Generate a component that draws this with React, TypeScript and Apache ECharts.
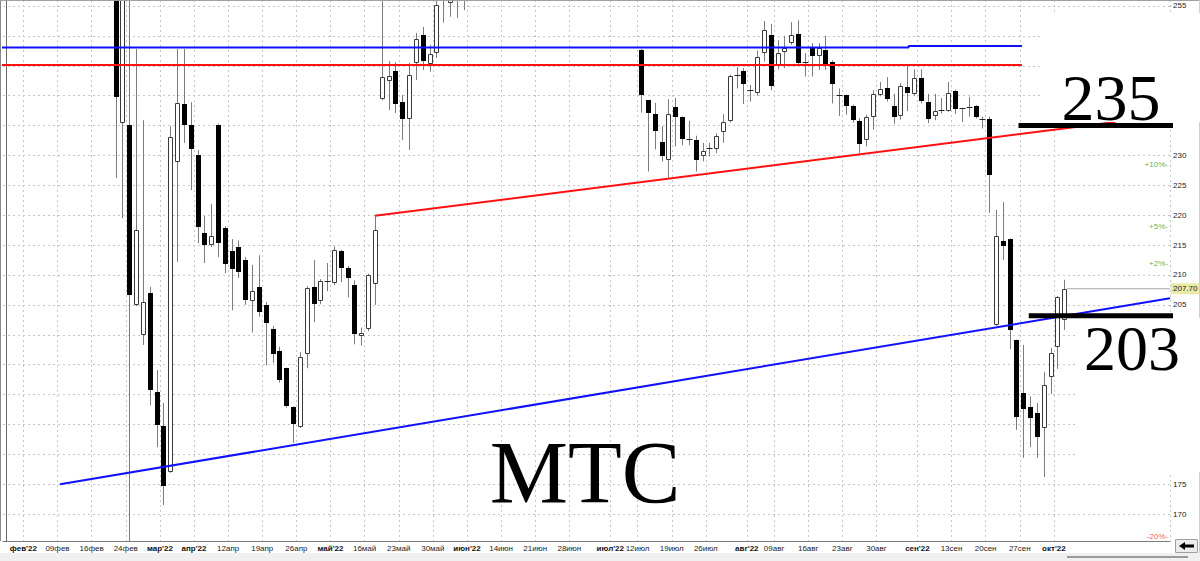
import React, { useEffect, useRef } from "react";
import * as echarts from "echarts";

// ---------- axis data ----------
const SLOT_COUNT = 171; // trading-day slots on the category axis
const tickSlots = [3, 8, 13, 18, 23, 28, 33, 38, 43, 48, 53, 58, 63, 68, 73, 78, 83, 89, 93, 98, 103, 109, 113, 118, 123, 128, 134, 139, 144, 149, 154];
const tickLabels = ["фев'22", "09фев", "16фев", "24фев", "мар'22", "апр'22", "12апр", "19апр", "26апр", "май'22", "16май", "23май", "30май", "июн'22", "14июн", "21июн", "28июн", "июл'22", "12июл", "19июл", "26июл", "авг'22", "09авг", "16авг", "23авг", "30авг", "сен'22", "13сен", "20сен", "27сен", "окт'22"];
const yTickLabels = [170, 175, 205, 210, 215, 220, 225, 230, 255];

// ---------- candles (slot, open, high, low, close) ----------
const candleSlots = [
  16, 17, 18, 19, 20, 21, 22, 23, 24, 25, 26, 27, 28, 29, 30, 31, 32, 33, 34, 35, 36, 37, 38, 39, 40, 41, 42, 43, 44, 45, 46, 47, 48, 49, 50, 51, 52, 53, 54,
  55, 56, 57, 58, 59, 60, 61, 62, 63, 64, 65, 66, 67,
  93, 94, 95, 96, 97, 98, 99, 100, 101, 102, 103, 104, 105, 106, 107, 108, 109, 110, 111, 112, 113, 114, 115, 116, 117, 118, 119, 120, 121, 122, 123, 124, 125, 126, 127, 128, 129, 130, 131, 132, 133, 134, 135, 136, 137, 138, 139, 140, 141, 142, 143,
  144, 145, 146, 147, 148, 149, 150, 151, 152, 153, 154, 155,
];
const opens = [
  262, 235.4, 235.1, 205.0, 200.0, 207.0, 190.4, 184.7, 177.0, 228.9, 238.6, 235.1, 230.1, 217.0, 215.0, 235.1, 217.9, 214.0, 214.7, 212.5, 205.7, 208.0, 205.0, 201.0, 197.3, 194.4, 187.9, 184.6, 196.8, 208.0, 205.6, 209.0, 208.6, 214.0, 211.2, 208.3, 199.8, 200.9, 208.5,
  239.4, 242.5, 244.1, 238.9, 236.1, 245.5, 250.1, 245.3, 247.1, 256.5, 255.5, 257.5, 258,
  247.6, 239.2, 236.9, 232.3, 229.2, 238.1, 236.4, 232.8, 232.6, 229.9, 231.25, 231.0, 234.0, 235.8, 243.5, 244.2, 241.0, 240.3, 247.1, 250.2, 245.0, 247.2, 248.9, 250.3, 245.8, 247.9, 246.5, 247.6, 245.7, 240.2, 240.1, 238.3, 235.8, 232.6, 236.4, 240.1, 241.2, 238.3, 236.5, 241.5, 240.3, 242.9, 239.0, 236.6, 237.6, 237.5, 240.7, 237.9, 238.2, 238.3, 236.1,
  236.1, 201.6, 215.7, 216.0, 199.1, 190.2, 187.9, 186.9, 184.4, 192.9, 197.9, 202.5,
];
const highs = [
  264, 262, 258, 247.8, 235.9, 208.0, 194.1, 188.6, 234.9, 247.8, 247.8, 238.9, 230.9, 219.9, 221.9, 235.3, 218.2, 216.0, 215.8, 213.0, 211.7, 213.3, 205.5, 201.5, 198.0, 194.5, 188.0, 197.1, 208.1, 212.5, 209.3, 212.0, 214.8, 214.2, 211.5, 209.1, 201.2, 210.2, 219.9,
  258, 245.8, 245.6, 240.1, 245.5, 250.5, 251.5, 248.5, 256.5, 259, 259, 260, 261,
  247.8, 239.3, 238.8, 234.9, 239.4, 239.6, 236.5, 235.8, 233.3, 232.1, 232.1, 233.7, 236.9, 243.5, 244.8, 244.6, 241.8, 247.5, 252.5, 252.0, 249.3, 250.0, 252.3, 252.6, 247.1, 248.8, 248.8, 250.0, 245.9, 241.2, 240.2, 238.5, 236.2, 236.8, 240.9, 242.3, 243.1, 240.3, 242.1, 245.1, 244.4, 244.4, 240.3, 240.3, 239.6, 242.3, 241.0, 237.95, 239.8, 238.4, 236.5,
  236.5, 220.9, 222.2, 216.1, 199.2, 198.3, 189.7, 188.6, 193.8, 197.8, 206.5, 209.2,
];
const lows = [
  226.2, 219.5, 165, 204.8, 198.3, 188.2, 181.2, 171.5, 176.9, 212.2, 232.1, 224.2, 215.3, 212.0, 214.7, 213.0, 210.3, 204.1, 209.5, 205.0, 200.4, 203.0, 194.9, 195.3, 192.0, 187.8, 181.9, 184.4, 194.4, 202.1, 205.1, 207.3, 208.3, 208.8, 206.3, 198.4, 198.2, 200.6, 205.0,
  239.2, 237.6, 237.1, 232.6, 230.9, 242.6, 244.3, 244.0, 246.3, 252.2, 253.2, 253.0, 254.3,
  237.2, 227.3, 231.0, 229.0, 226.3, 231.5, 231.7, 231.7, 227.3, 229.0, 229.8, 230.4, 232.1, 235.5, 241.2, 238.6, 239.0, 240.0, 245.7, 240.9, 244.4, 244.6, 248.5, 245.3, 243.2, 243.2, 244.3, 244.3, 238.7, 236.6, 236.8, 235.5, 230.4, 231.5, 234.3, 239.9, 239.0, 235.3, 236.0, 237.4, 240.0, 238.7, 235.4, 235.9, 237.0, 237.3, 236.9, 235.6, 236.5, 236.2, 234.5,
  220.4, 201.5, 212.5, 197.6, 184.1, 179.4, 181.2, 179.4, 176.2, 190.1, 194.3, 200.8,
];
const closes = [
  239.8, 258, 206.6, 217.5, 205.5, 190.8, 184.9, 174.7, 233.1, 238.8, 235.1, 231.1, 218.0, 215.0, 216.5, 215.3, 211.8, 211.0, 210.5, 205.8, 207.3, 203.8, 202.0, 196.9, 192.4, 188.1, 185.1, 196.3, 207.8, 205.1, 209.0, 209.1, 214.2, 211.2, 209.5, 200.1, 200.3, 210.0, 217.5,
  243.1, 243.3, 238.6, 236.1, 243.5, 249.5, 245.8, 247.0, 255.2, 258, 258, 259, 260,
  240.0, 237.0, 234.0, 229.9, 236.9, 236.4, 232.7, 232.6, 229.2, 230.8, 231.15, 233.25, 235.6, 243.3, 243.4, 242.0, 240.9, 246.4, 251.0, 241.6, 247.2, 247.9, 250.2, 245.5, 245.6, 246.5, 247.9, 245.1, 242.1, 240.05, 238.3, 236.0, 232.0, 236.5, 240.3, 241.1, 239.4, 236.4, 241.6, 240.5, 242.9, 239.0, 236.2, 237.5, 237.5, 240.5, 237.7, 237.85, 238.1, 236.5, 236.0,
  226.7, 216.5, 214.8, 200.8, 186.2, 187.6, 186.1, 182.9, 191.6, 196.9, 206.3, 207.7,
];

// ---------- drawn lines (slot, price) ----------
const blueLevel = [[-0.94, 248.06], [132.2, 248.06], [132.2, 248.3], [148.8, 248.3]];
const redLevel = [[-0.94, 245.13], [148.8, 245.13]];
const redTrend = [[54, 219.9], [162.5, 235.6]];
const blueTrend = [[7.86, 175.0], [170.5, 206.12]];
const level235 = [[148.3, 235.0], [175.2, 235.0]];
const level203 = [[149.8, 203.2], [175.2, 203.2]];
const lastPrice = [[155.4, 207.7], [170.5, 207.7]];
const pctLevels = [228.5, 218.1, 211.9, 166.2];
const pctTexts = ["+10%-", "+5%-", "+2%-", "-20%-"];
const pctColors = ["#2e9e2e", "#2e9e2e", "#2e9e2e", "#e03030"];

const labelBySlot: Record<number, string> = {};
tickSlots.forEach((s, i) => (labelBySlot[s] = tickLabels[i]));
const categories = Array.from({ length: SLOT_COUNT }, (_, i) => String(i));
const candleRows = candleSlots.map((s, i) => [s, opens[i], highs[i], lows[i], closes[i]]);

function renderCandle(params: any, api: any) {
  const slot = api.value(0);
  const o = api.value(1), h = api.value(2), l = api.value(3), c = api.value(4);
  const cs = params.coordSys;
  const top = cs.y, bottom = cs.y + cs.height;
  const pO = api.coord([slot, o]);
  const yC = api.coord([slot, c])[1];
  const yH = api.coord([slot, h])[1];
  const yL = api.coord([slot, l])[1];
  const yO = pO[1];
  const x = Math.round(pO[0]) + 0.5;
  const children: any[] = [];
  const wT = Math.max(yH, top), wB = Math.min(yL, bottom);
  if (wB > wT) {
    children.push({ type: "line", shape: { x1: x, y1: wT, x2: x, y2: wB }, style: { stroke: "#7c7c7c", lineWidth: 1 } });
  }
  const up = c >= o;
  const bTop = Math.min(yO, yC), bBot = Math.max(yO, yC);
  const cT = Math.max(bTop, top), cB = Math.min(bBot, bottom);
  if (cB >= cT) {
    if (bBot - bTop < 1.5) {
      const yy = Math.round((bTop + bBot) / 2) + 0.5;
      children.push({ type: "line", shape: { x1: x - 3, y1: yy, x2: x + 3, y2: yy }, style: { stroke: "#222", lineWidth: 1 } });
    } else if (up) {
      children.push({ type: "rect", shape: { x: x - 2, y: Math.round(cT) + 0.5, width: 4, height: Math.max(1, Math.round(cB - cT) - 1) }, style: { fill: "#ffffff", stroke: "#3a3a3a", lineWidth: 1 } });
    } else {
      children.push({ type: "rect", shape: { x: x - 2.5, y: Math.round(cT), width: 5, height: Math.max(1, Math.round(cB - cT)) }, style: { fill: "#000000" } });
    }
  }
  return { type: "group", children };
}

function lineSeries(data: number[][], color: string, width: number, z: number, extra: any = {}) {
  return {
    type: "line",
    xAxisIndex: 1,
    yAxisIndex: 0,
    data,
    symbol: "none",
    clip: false,
    silent: true,
    z,
    lineStyle: { color, width },
    ...extra,
  };
}

export default function App() {
  const ref = useRef<HTMLDivElement>(null);
  useEffect(() => {
    if (!ref.current) return;
    const chart = echarts.init(ref.current, undefined, { renderer: "svg" });
    const gridStyle = { color: "#c6c6c6", type: [2, 3], width: 1 };
    const option: any = {
      animation: false,
      backgroundColor: "#ffffff",
      grid: { left: 3, right: 30, top: 0, bottom: 20, containLabel: false },
      xAxis: [
        {
          type: "category",
          data: categories,
          boundaryGap: true,
          axisLine: { show: true, lineStyle: { color: "#7a7a7a" } },
          axisTick: { show: false },
          axisLabel: {
            interval: (i: number) => labelBySlot[i] !== undefined,
            formatter: (_v: string, i: number) => {
              const t = labelBySlot[i];
              if (!t) return "";
              return t.indexOf("'") >= 0 ? `{b|${t}}` : `{n|${t}}`;
            },
            margin: 3,
            rich: {
              b: { fontSize: 8, fontWeight: "bold", color: "#111", fontFamily: "Liberation Sans", padding: [0, 7, 0, 0] },
              n: { fontSize: 8, color: "#222", fontFamily: "Liberation Sans", padding: [0, 7, 0, 0] },
            },
          },
          splitLine: { show: true, interval: (i: number) => labelBySlot[i] !== undefined, lineStyle: gridStyle },
        },
        { type: "value", min: -0.5, max: SLOT_COUNT - 0.5, show: false },
      ],
      yAxis: {
        type: "value",
        position: "right",
        min: 165.5,
        max: 256,
        minInterval: 5,
        maxInterval: 5,
        axisLine: { show: true, lineStyle: { color: "#6a6a6a" } },
        axisTick: { show: false },
        axisLabel: {
          margin: 3,
          fontSize: 8,
          color: "#222",
          fontFamily: "Liberation Sans",
          formatter: (v: number) => (yTickLabels.indexOf(v) >= 0 ? String(v) : ""),
        },
        splitLine: { show: true, lineStyle: gridStyle },
      },
      series: [
        {
          type: "custom",
          xAxisIndex: 0,
          yAxisIndex: 0,
          data: candleRows,
          encode: { x: 0, y: [1, 2, 3, 4] },
          renderItem: renderCandle,
          z: 5,
          silent: true,
        },
        lineSeries(blueLevel, "#1010ff", 2, 10),
        lineSeries(redLevel, "#ff1010", 2, 10),
        lineSeries(redTrend, "#ff1010", 2, 10),
        lineSeries(blueTrend, "#1010ff", 2, 10),
        lineSeries(lastPrice, "#a8a8a8", 1, 8, {
          endLabel: {
            show: true,
            formatter: "207.70",
            backgroundColor: "#eaeaa6",
            color: "#222",
            fontSize: 8,
            fontFamily: "Liberation Sans",
            padding: [2, 2, 1, 2],
            distance: 1,
          },
        }),
        {
          type: "scatter",
          xAxisIndex: 1,
          yAxisIndex: 0,
          symbolSize: 0,
          silent: true,
          z: 8,
          data: pctLevels.map((v, i) => ({
            value: [170.2, v],
            label: { show: true, position: "left", distance: 0, formatter: pctTexts[i], color: pctColors[i], fontSize: 8, fontFamily: "Liberation Sans" },
          })),
        },
        lineSeries(level235, "#000000", 5, 60),
        lineSeries(level203, "#000000", 5, 60),
      ],
      graphic: [
        { type: "line", z: 40, shape: { x1: 0.5, y1: 0, x2: 0.5, y2: 541 }, style: { stroke: "#8a8a8a", lineWidth: 1 } },
        { type: "line", z: 40, shape: { x1: 0, y1: 0.5, x2: 1200, y2: 0.5 }, style: { stroke: "#a0a0a0", lineWidth: 1 } },
        { type: "line", z: 40, shape: { x1: 1199.5, y1: 0, x2: 1199.5, y2: 553 }, style: { stroke: "#d0d0d0", lineWidth: 1 } },
        { type: "rect", z: 40, shape: { x: 0, y: 553, width: 1200, height: 8 }, style: { fill: "#f0f0f0" } },
        { type: "rect", z: 41, shape: { x: 1067, y: 556, width: 121, height: 2 }, style: { fill: "#9a9a9a" } },
        { type: "rect", z: 41, shape: { x: 1175.5, y: 539.5, width: 22, height: 13 }, style: { fill: "#ececec", stroke: "#a0a0a0", lineWidth: 1 } },
        { type: "polygon", z: 42, shape: { points: [[1179, 546], [1185, 542], [1185, 544.5], [1194, 544.5], [1194, 547.5], [1185, 547.5], [1185, 550]] }, style: { fill: "#000" } },
        // annotation boxes and texts
        { type: "rect", z: 50, shape: { x: 1040, y: 13, width: 160, height: 109 }, style: { fill: "#ffffff" } },
        { type: "rect", z: 50, shape: { x: 1076, y: 318, width: 124, height: 154 }, style: { fill: "#ffffff" } },
        { type: "text", z: 51, x: 1111, y: 97, style: { text: "235", font: '66px "Liberation Serif"', fill: "#000", align: "center", verticalAlign: "middle" } },
        { type: "text", z: 51, x: 1132, y: 348, style: { text: "203", font: '64px "Liberation Serif"', fill: "#000", align: "center", verticalAlign: "middle" } },
        { type: "text", z: 51, x: 585, y: 472, style: { text: "МТС", font: '88px "Liberation Serif"', fill: "#000", align: "center", verticalAlign: "middle" } },
      ],
    };
    chart.setOption(option);
    return () => chart.dispose();
  }, []);
  return <div ref={ref} style={{ position: "fixed", left: 0, top: 0, width: 1200, height: 561 }} />;
}
